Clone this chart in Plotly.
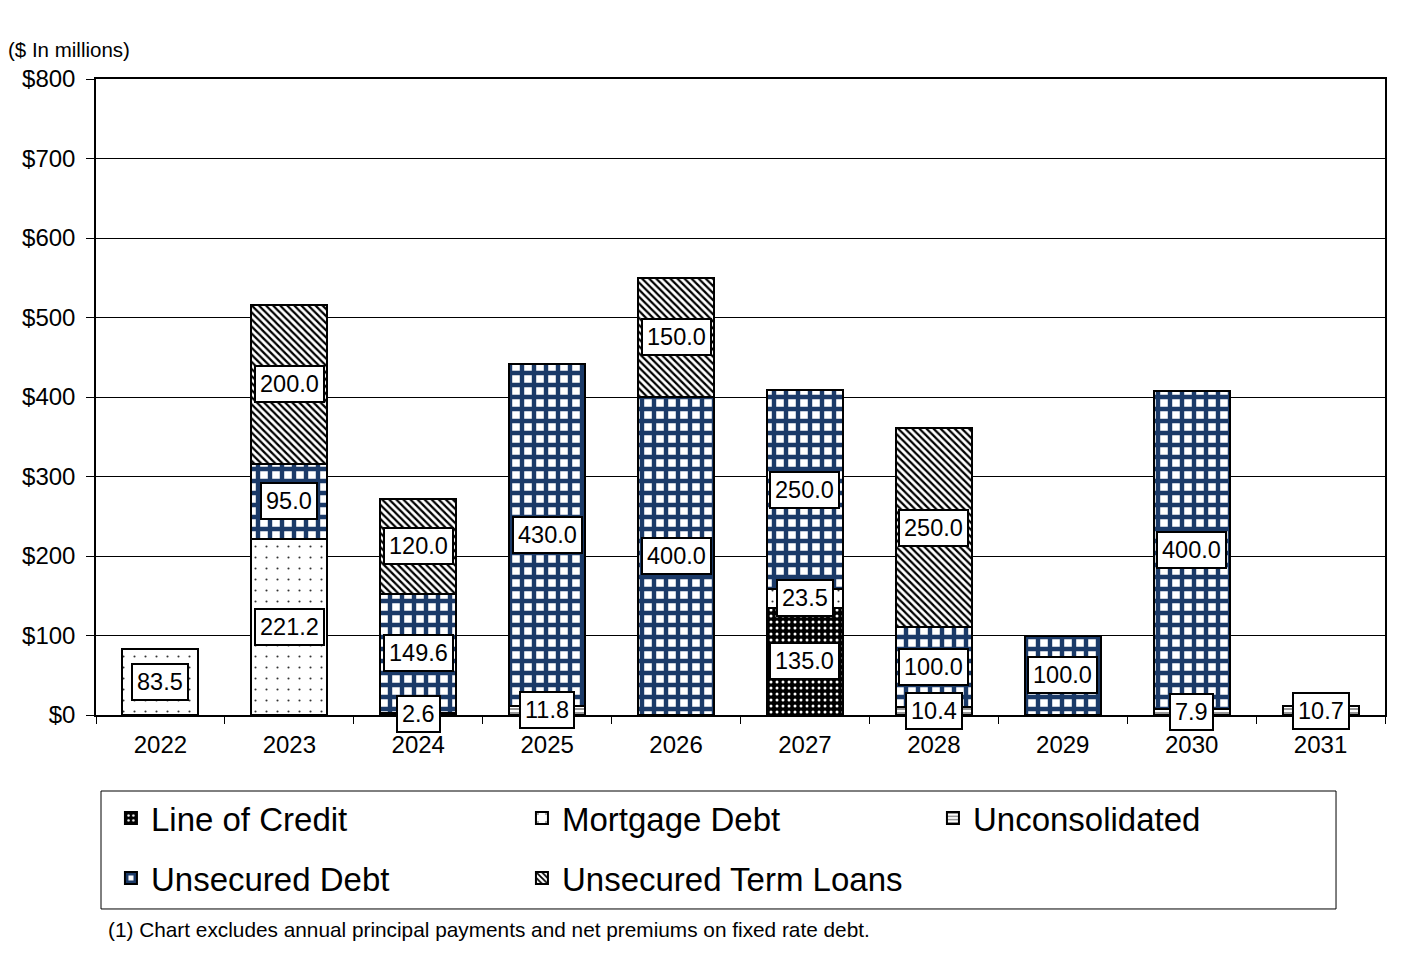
"""Debt maturity schedule: stacked bars by debt type, 2022-2031."""

import plotly.graph_objects as go

years = ["2022", "2023", "2024", "2025", "2026", "2027", "2028", "2029", "2030", "2031"]

line_of_credit = [0, 0, 0, 0, 0, 135.0, 0, 0, 0, 0]
mortgage_debt = [83.5, 221.2, 0, 0, 0, 23.5, 0, 0, 0, 0]
unconsolidated = [0, 0, 2.6, 11.8, 0, 0, 10.4, 0, 7.9, 10.7]
unsecured_debt = [0, 95.0, 149.6, 430.0, 400.0, 250.0, 100.0, 100.0, 400.0, 0]
unsecured_term_loans = [0, 200.0, 120.0, 0, 150.0, 0, 250.0, 0, 0, 0]

series = [
    ("Line of Credit", line_of_credit),
    ("Mortgage Debt", mortgage_debt),
    ("Unconsolidated", unconsolidated),
    ("Unsecured Debt", unsecured_debt),
    ("Unsecured Term Loans", unsecured_term_loans),
]

FONT = "Liberation Sans, Arial, sans-serif"
NAVY = "#1b3a68"

# fill pattern for each series
patterns = {
    "Line of Credit": dict(shape=".", bgcolor="black", fgcolor="white", size=6, solidity=0.2),
    "Mortgage Debt": dict(shape=".", bgcolor="white", fgcolor="#333333", size=11, solidity=0.03),
    "Unconsolidated": dict(shape="-", bgcolor="white", fgcolor="#8a8a8a", size=4, solidity=0.45),
    "Unsecured Debt": dict(shape="+", bgcolor="white", fgcolor=NAVY, size=12, solidity=0.6),
    "Unsecured Term Loans": dict(shape="\\", bgcolor="white", fgcolor="black", size=5, solidity=0.45),
}

fig = go.Figure()

for i, (name, vals) in enumerate(series):
    pat = patterns[name]
    fig.add_trace(
        go.Bar(
            x=years,
            y=vals,
            name=name,
            marker=dict(
                color=pat["bgcolor"],
                line=dict(color="black", width=2),
                pattern=dict(fillmode="replace", **pat),
            ),
            legend="legend" if i < 3 else "legend2",
            hoverinfo="skip",
        )
    )

# value labels centered on each segment (x given as category index)
annotations = []
base = [0.0] * len(years)
for name, vals in series:
    for j, v in enumerate(vals):
        if v > 0:
            annotations.append(
                dict(
                    x=j,
                    y=base[j] + v / 2,
                    text=f"{v:.1f}",
                    showarrow=False,
                    font=dict(family=FONT, size=23.5, color="black"),
                    bgcolor="white",
                    bordercolor="black",
                    borderwidth=2,
                    borderpad=4,
                )
            )
            base[j] += v

annotations.append(
    dict(
        x=-0.0695, y=1.0456, xref="paper", yref="paper", xanchor="left", yanchor="middle",
        text="($ In millions)", showarrow=False, font=dict(family=FONT, size=20.5, color="black"),
    )
)
annotations.append(
    dict(
        x=0.0078, y=-0.338, xref="paper", yref="paper", xanchor="left", yanchor="middle",
        text="(1) Chart excludes annual principal payments and net premiums on fixed rate debt.",
        showarrow=False,
        font=dict(family=FONT, size=20.8, color="black"),
    )
)

legend_common = dict(
    orientation="h",
    xanchor="left",
    yanchor="middle",
    x=0.0116,
    entrywidth=366,
    entrywidthmode="pixels",
    font=dict(family=FONT, size=33, color="black"),
    bgcolor="rgba(0,0,0,0)",
    borderwidth=0,
    traceorder="normal",
)

fig.update_layout(
    width=1406,
    height=953,
    margin=dict(l=88, r=29, t=71, b=246),
    paper_bgcolor="white",
    plot_bgcolor="white",
    barmode="stack",
    bargap=0.41,
    font=dict(family=FONT, size=24, color="black"),
    showlegend=True,
    legend=dict(y=-0.162, **legend_common),
    legend2=dict(y=-0.2563, **legend_common),
    annotations=annotations,
    shapes=[
        dict(
            type="rect", xref="paper", yref="paper",
            x0=0.00388, x1=0.962, y0=-0.305, y1=-0.1195,
            line=dict(color="black", width=1), fillcolor="rgba(0,0,0,0)",
        )
    ],
    xaxis=dict(
        type="category",
        showline=True,
        linecolor="black",
        linewidth=2,
        mirror=True,
        ticks="outside",
        tickson="boundaries",
        ticklen=7,
        tickcolor="black",
        ticklabelstandoff=7,
        showgrid=False,
        tickfont=dict(family=FONT, size=24, color="black"),
    ),
    yaxis=dict(
        range=[0, 800],
        dtick=100,
        tickprefix="$",
        showline=True,
        linecolor="black",
        linewidth=1.5,
        mirror=True,
        ticks="outside",
        ticklen=8,
        tickcolor="black",
        ticklabelstandoff=6,
        showgrid=True,
        gridcolor="black",
        gridwidth=1,
        zeroline=False,
        tickfont=dict(family=FONT, size=24, color="black"),
    ),
)

fig.write_html("out.html")
